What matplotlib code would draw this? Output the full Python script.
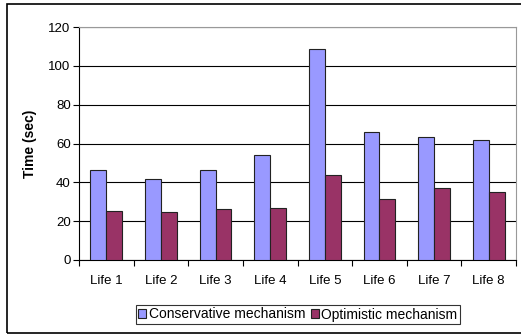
import matplotlib
matplotlib.use('Agg')
import matplotlib.pyplot as plt
import numpy as np
from matplotlib.patches import Rectangle

plt.rcParams['font.family'] = ['Liberation Sans', 'DejaVu Sans']

vidas = ['Life 1', 'Life 2', 'Life 3', 'Life 4', 'Life 5', 'Life 6', 'Life 7', 'Life 8']
conservador = [46.3, 41.6, 46.2, 54.0, 108.5, 66.1, 63.5, 61.6]
optimista = [25.1, 24.5, 26.3, 26.6, 43.9, 31.2, 37.2, 35.0]

fig = plt.figure(figsize=(5.21, 3.35), dpi=100)
# marco exterior (el borde derecho queda fuera de la imagen)
fig.patches.append(Rectangle((7/521, 2/335), 520/521, 329/335, transform=fig.transFigure,
                             fill=False, edgecolor='black', linewidth=1.2))

ax = fig.add_axes([79/521, 75/335, 437/521, 233/335])
x = np.arange(len(vidas))
ancho = 0.29
ax.bar(x - ancho/2, conservador, ancho, color='#9999FF', edgecolor='#222222', linewidth=0.8,
       label='Conservative mechanism', zorder=3)
ax.bar(x + ancho/2, optimista, ancho, color='#993366', edgecolor='#222222', linewidth=0.8,
       label='Optimistic mechanism', zorder=3)

ax.set_xlim(-0.5, len(vidas) - 0.5)
ax.set_ylim(0, 120)
ax.set_yticks(range(0, 121, 20))
ax.yaxis.grid(True, color='black', linewidth=0.8, zorder=0)
ax.set_xticks(x)
ax.set_xticklabels(vidas, fontsize=9.5)
ax.set_xticks(np.arange(-0.5, len(vidas), 1), minor=True)
ax.tick_params(axis='x', which='major', length=0, pad=11)
ax.tick_params(axis='x', which='minor', length=4, width=0.8, direction='out')
ax.tick_params(axis='y', labelsize=9.5, length=4, width=0.8, direction='out', pad=2)

for lado in ['top', 'right']:
    ax.spines[lado].set_color('#999999')
for lado in ['left', 'bottom']:
    ax.spines[lado].set_color('black')
    ax.spines[lado].set_linewidth(0.8)

ax.set_ylabel('Time (sec)', fontsize=10, fontweight='bold', labelpad=8)

leg = fig.legend(loc='center', bbox_to_anchor=(298/521, 1 - 314.5/335), ncol=2, fontsize=10,
                 frameon=True, fancybox=False, edgecolor='black', handlelength=0.55,
                 handleheight=0.55, handletextpad=0.2, columnspacing=0.4, borderpad=0.2,
                 borderaxespad=0)
leg.get_frame().set_linewidth(0.8)

fig.savefig('out.png', dpi=100)
